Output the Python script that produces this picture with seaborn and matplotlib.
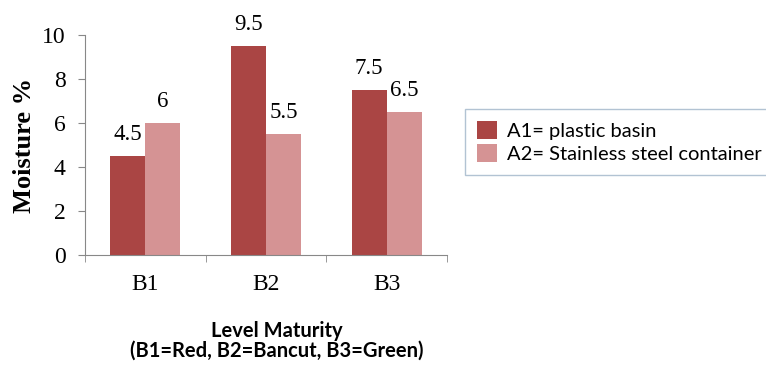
import pandas as pd
import seaborn as sns
import matplotlib.pyplot as plt

# données
maturite = ['B1', 'B2', 'B3']
a1_plastique = [4.5, 9.5, 7.5]
a2_inox = [6, 5.5, 6.5]
noms_series = ['A1= plastic basin', 'A2= Stainless steel container']
couleurs = ['#AA4544', '#D59394']


def main():
    df = pd.DataFrame({
        'Maturite': maturite * 2,
        'Serie': [noms_series[0]] * 3 + [noms_series[1]] * 3,
        'Valeur': a1_plastique + a2_inox,
    })

    plt.rcParams['font.family'] = ['Liberation Serif']
    fig = plt.figure(figsize=(7.66, 3.65), dpi=100)
    ax = fig.add_axes([85 / 766, 1 - 255 / 365, 362 / 766, 220 / 365])

    sns.barplot(data=df, x='Maturite', y='Valeur', hue='Serie',
                palette=couleurs, width=0.58, saturation=1, ax=ax)

    # étiquettes de valeur
    for cont in ax.containers:
        ax.bar_label(cont, labels=[f'{v:g}' for v in cont.datavalues],
                     padding=8, fontsize=16.5)

    ax.set_ylim(0, 10)
    ax.set_xlim(-0.5, 2.5)
    ax.set_yticks(range(0, 11, 2))
    ax.set_xticks([-0.5, 0.5, 1.5, 2.5], minor=True)
    ax.tick_params(axis='x', which='major', length=0, pad=14, labelsize=17)
    ax.tick_params(axis='x', which='minor', length=5, direction='out',
                   color='#888888')
    ax.tick_params(axis='y', length=5, pad=9, labelsize=17, color='#888888')
    for s in ['top', 'right']:
        ax.spines[s].set_visible(False)
    for s in ['left', 'bottom']:
        ax.spines[s].set_color('#888888')

    ax.set_ylabel('Moisture %', fontsize=19, weight='bold', labelpad=4)
    ax.set_xlabel('Level Maturity\n(B1=Red, B2=Bancut, B3=Green)',
                  fontsize=14.5, weight='bold', family='Lato', linespacing=1.0)
    ax.xaxis.set_label_coords(0.53, -0.30)

    # légende : le cadre dépasse le bord droit comme dans l'original
    ax.legend_.remove()
    handles, labels = ax.get_legend_handles_labels()
    leg = fig.legend(handles, labels, loc='upper left', mode='expand',
                     bbox_to_anchor=(465 / 766, 1 - 109 / 365, 320 / 766, 0),
                     borderaxespad=0, prop={'family': 'Lato', 'size': 14.5},
                     handlelength=1.0, handleheight=1.0, handletextpad=0.5,
                     labelspacing=0.2, borderpad=0.6, fancybox=False,
                     frameon=True, edgecolor='#9FB4C9')
    leg.get_frame().set_linewidth(1)

    fig.savefig('out.png', dpi=100)


if __name__ == '__main__':
    main()
